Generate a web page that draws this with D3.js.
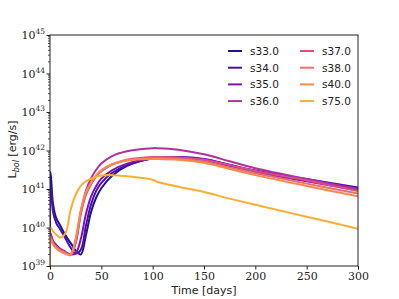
<!DOCTYPE html>
<html><head><meta charset="utf-8">
<script src="https://cdn.jsdelivr.net/npm/d3@7"></script>
<style>body{margin:0;background:#fff}svg{display:block}</style>
</head><body>
<svg id="c" width="399" height="299"></svg>
<script>
const seriesNames = ["s33.0","s34.0","s35.0","s36.0","s37.0","s38.0","s40.0","s75.0"];
const seriesColors = ["#1b1591","#4a0fae","#8510b8","#b0309c","#dc4c86","#e8706e","#f7894a","#fbae33"];
const times = [0,0.5,3,6,10,15,20,25,30,35,40,45,50,60,75,100,105,125,150,175,200,250,300];
// log10 of L_bol [erg/s]
const s33 = [39,41.45,40.6,40.25,40.05,39.8,39.6,39.4,39.3,39.8,40.4,40.78,41.02,41.33,41.6,41.8,41.81,41.82,41.76,41.6,41.45,41.22,41.0];
const s34 = [39,41.1,40.4,40.12,39.95,39.72,39.48,39.32,39.42,40.05,40.6,40.95,41.16,41.41,41.62,41.8,41.81,41.83,41.78,41.63,41.48,41.26,41.04];
const s35 = [39,39.85,39.65,39.55,39.45,39.37,39.3,39.33,39.7,40.35,40.8,41.08,41.27,41.48,41.66,41.8,41.81,41.82,41.77,41.62,41.45,41.2,40.97];
const s36 = [39,39.8,39.62,39.52,39.42,39.35,39.3,39.6,40.4,40.95,41.28,41.5,41.66,41.85,41.98,42.06,42.06,42.02,41.9,41.72,41.54,41.26,41.0];
const s37 = [39,39.75,39.6,39.5,39.42,39.35,39.3,39.62,40.35,40.85,41.12,41.33,41.46,41.63,41.76,41.83,41.83,41.82,41.76,41.62,41.47,41.22,40.95];
const s38 = [39,39.72,39.58,39.48,39.4,39.33,39.28,39.66,40.4,40.88,41.14,41.34,41.47,41.63,41.75,41.8,41.8,41.78,41.71,41.56,41.41,41.14,40.88];
const s40 = [39,39.7,39.56,39.46,39.38,39.32,39.3,39.72,40.45,40.92,41.17,41.36,41.49,41.64,41.74,41.78,41.78,41.76,41.68,41.52,41.36,41.08,40.81];
const s75 = [39,40.0,39.9,39.82,39.74,39.85,40.45,40.85,41.08,41.2,41.27,41.32,41.35,41.36,41.33,41.24,41.18,41.06,40.92,40.75,40.59,40.28,39.97];
const seriesValues = [s33,s34,s35,s36,s37,s38,s40,s75];
const xTicks = [0,50,100,150,200,250,300];
const yTickExps = [39,40,41,42,43,44,45];

const svg = d3.select("#c");
const L = 50, R = 358, T = 35, B = 266;
const x = d3.scaleLinear().domain([0,300]).range([L,R]);
const y = d3.scaleLog().domain([1e39,1e45]).range([B,T]);

svg.append("defs").append("clipPath").attr("id","clip")
  .append("rect").attr("x",L).attr("y",T).attr("width",R-L).attr("height",B-T);

const line = d3.line().x(d=>x(d[0])).y(d=>y(Math.pow(10,d[1]))).curve(d3.curveCatmullRom.alpha(0.5));
const g = svg.append("g").attr("clip-path","url(#clip)");
seriesValues.forEach((vals,i)=>{
  g.append("path").datum(times.map((t,j)=>[t,vals[j]]))
    .attr("d",line).attr("fill","none").attr("stroke",seriesColors[i])
    .attr("stroke-width",2).attr("stroke-linejoin","round");
});

// frame
svg.append("rect").attr("x",L).attr("y",T).attr("width",R-L).attr("height",B-T)
  .attr("fill","none").attr("stroke","#222").attr("stroke-width",1);

// x axis
const xa = svg.append("g").attr("transform",`translate(0,${B})`)
  .call(d3.axisBottom(x).tickValues(xTicks).tickSize(3.5).tickPadding(3).tickFormat(d3.format("d")));
xa.select(".domain").remove();
xa.selectAll("text").attr("font-family","'DejaVu Serif', 'Liberation Serif', serif").attr("font-size",11).attr("fill","#222");
xa.selectAll("line").attr("stroke","#222");

// y axis major
const ya = svg.append("g").attr("transform",`translate(${L},0)`)
  .call(d3.axisLeft(y).tickValues(yTickExps.map(e=>Math.pow(10,e))).tickSize(3.5).tickFormat(""));
ya.select(".domain").remove();
ya.selectAll("line").attr("stroke","#222");
// minor ticks
const minor = [];
yTickExps.slice(0,-1).forEach(e=>{ for(let k=2;k<10;k++) minor.push(k*Math.pow(10,e)); });
svg.append("g").selectAll("line").data(minor).join("line")
  .attr("x1",L-2).attr("x2",L).attr("y1",d=>y(d)).attr("y2",d=>y(d))
  .attr("stroke","#222").attr("stroke-width",0.8);
// y tick labels
const yl = svg.append("g");
yTickExps.forEach(e=>{
  const t = yl.append("text").attr("x",L-5).attr("y",y(Math.pow(10,e))+4)
    .attr("text-anchor","end").attr("font-family","'DejaVu Serif', 'Liberation Serif', serif")
    .attr("font-size",11).attr("fill","#222");
  t.append("tspan").text("10");
  t.append("tspan").attr("dy",-5).attr("font-size",7.5).text(e);
});

// axis titles
svg.append("text").attr("x",(L+R)/2).attr("y",294).attr("text-anchor","middle")
  .attr("font-family","'DejaVu Sans', sans-serif").attr("font-size",11).attr("fill","#222").text("Time [days]");
const ylab = svg.append("text").attr("transform",`translate(16,${(T+B)/2+ -1}) rotate(-90)`)
  .attr("text-anchor","middle").attr("font-family","'DejaVu Sans', sans-serif").attr("font-size",11).attr("fill","#222");
ylab.append("tspan").text("L");
ylab.append("tspan").attr("dy",3).attr("font-size",8).attr("font-style","italic").text("bol");
ylab.append("tspan").attr("dy",-3).text(" [erg/s]");

// legend
const leg = svg.append("g");
seriesNames.forEach((n,i)=>{
  const col = Math.floor(i/4), row = i%4;
  const lx = 228 + col*72, ly = 51 + row*16.7;
  leg.append("line").attr("x1",lx).attr("x2",lx+14).attr("y1",ly).attr("y2",ly)
    .attr("stroke",seriesColors[i]).attr("stroke-width",2);
  leg.append("text").attr("x",lx+22).attr("y",ly+4).attr("font-family","'DejaVu Sans', sans-serif")
    .attr("font-size",10.5).attr("fill","#222").text(n);
});
</script>
</body></html>
